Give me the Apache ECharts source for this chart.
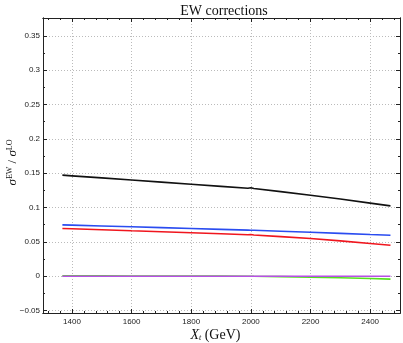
<!DOCTYPE html>
<html>
<head>
<meta charset="utf-8">
<script src="https://cdn.jsdelivr.net/npm/echarts@6/dist/echarts.min.js"></script>
<style>html,body{margin:0;padding:0;background:#fff}#c{width:403px;height:343px}</style>
</head>
<body>
<div id="c"></div>
<script>
// ---- data ----
const xTotal = [1368, 1400, 1500, 1600, 1700, 1800, 1900, 1990, 2000, 2010, 2100, 2200, 2300, 2400, 2468];
const blackVals = [0.1472, 0.1462, 0.1432, 0.1402, 0.1371, 0.1340, 0.1309, 0.1281, 0.1288, 0.1277, 0.1232, 0.1180, 0.1125, 0.1065, 0.1025];
const blueVals  = [0.0748, 0.0744, 0.0732, 0.0720, 0.0708, 0.0695, 0.0683, 0.0672, 0.0670, 0.0669, 0.0656, 0.0641, 0.0625, 0.0608, 0.0598];
const redVals   = [0.0695, 0.0691, 0.0677, 0.0662, 0.0648, 0.0633, 0.0618, 0.0605, 0.0607, 0.0601, 0.0577, 0.0550, 0.0515, 0.0477, 0.0452];
const greenVals = [0.0005, 0.0005, 0.0005, 0.0004, 0.0004, 0.0003, 0.0002, 0.0001, 0.0000, -0.0001, -0.0006, -0.0013, -0.0022, -0.0033, -0.0042];
const purpleVals= [0, 0, 0, 0, 0, 0, 0, 0, 0, 0, 0, 0, 0, 0, 0];
const xMajor = [1400, 1600, 1800, 2000, 2200, 2400];
const xMinor = [1320, 1360, 1440, 1480, 1520, 1560, 1640, 1680, 1720, 1760, 1840, 1880, 1920, 1960, 2040, 2080, 2120, 2160, 2240, 2280, 2320, 2360, 2440, 2480];
const yMajor = [-0.05, 0, 0.05, 0.1, 0.15, 0.2, 0.25, 0.3, 0.35];
const yMinor = [-0.025, 0.025, 0.075, 0.125, 0.175, 0.225, 0.275, 0.325, 0.375];
const xRange = [1303, 2500];
const yRange = [-0.0535, 0.376];
const titleText = 'EW corrections';

// ---- chart ----
const chart = echarts.init(document.getElementById('c'), null, {renderer: 'canvas'});
const lblStyle = {fontFamily: 'Liberation Sans, Arial, sans-serif', fontSize: 8, color: '#222'};
function fmtY(v) {
  let s = String(Math.round(v * 1000) / 1000);
  return s.replace('-', '\u2212');
}
function fmtX(v) { return String(Math.round(v)); }
function xAx(pos, ticks, len, opts) {
  return Object.assign({
    type: 'value', position: pos, min: xRange[0], max: xRange[1],
    axisLine: {show: true, onZero: false, lineStyle: {color: '#222', width: 1}},
    axisTick: {show: true, inside: true, length: len, customValues: ticks, lineStyle: {color: '#222', width: 1}},
    axisLabel: {show: false},
    splitLine: {show: false}
  }, opts || {});
}
function yAx(pos, ticks, len, opts) {
  return Object.assign({
    type: 'value', position: pos, min: yRange[0], max: yRange[1],
    axisLine: {show: true, onZero: false, lineStyle: {color: '#222', width: 1}},
    axisTick: {show: true, inside: true, length: len, customValues: ticks, lineStyle: {color: '#222', width: 1}},
    axisLabel: {show: false},
    splitLine: {show: false}
  }, opts || {});
}
const gridLine = {show: true, lineStyle: {color: '#bbb', type: [1, 2], width: 1}};
const option = {
  animation: false,
  backgroundColor: '#fff',
  title: {
    text: titleText, left: 219, top: -1, textAlign: 'center',
    textStyle: {fontFamily: 'Liberation Serif, DejaVu Serif, serif', fontSize: 14, fontWeight: 'normal', color: '#111'}
  },
  grid: {left: 43, right: 3, top: 18, bottom: 30, containLabel: false, outerBoundsMode: 'none'},
  xAxis: [
    xAx('bottom', xMajor, 4, {
      axisLabel: Object.assign({show: true, customValues: xMajor, margin: 5, formatter: fmtX}, lblStyle),
      splitLine: gridLine,
      name: '{x|X}{t|t} {g|(GeV)}', nameLocation: 'middle', nameGap: 15, nameMoveOverlap: false,
      nameTextStyle: {
        padding: [0, 12, 0, 0],
        rich: {
          x: {fontFamily: 'Liberation Serif, serif', fontStyle: 'italic', fontSize: 14, color: '#111'},
          t: {fontFamily: 'Liberation Serif, serif', fontStyle: 'italic', fontSize: 8, color: '#111', padding: [6, 0, 0, 0]},
          g: {fontFamily: 'Liberation Serif, serif', fontSize: 14, color: '#111'}
        }
      }
    }),
    xAx('bottom', xMinor, 2),
    xAx('top', xMajor, 4),
    xAx('top', xMinor, 2)
  ],
  yAxis: [
    yAx('left', yMajor, 4, {
      axisLabel: Object.assign({show: true, customValues: yMajor, margin: 3, formatter: fmtY}, lblStyle),
      splitLine: gridLine,
      name: '{s|\u03c3}{p|EW}{m| / }{s|\u03c3}{p|LO}', nameLocation: 'middle', nameGap: 23, nameRotate: 90, nameMoveOverlap: false,
      nameTextStyle: {
        padding: [0, 0, 0, 6],
        rich: {
          s: {fontFamily: 'Liberation Serif, serif', fontStyle: 'italic', fontSize: 13, color: '#111'},
          p: {fontFamily: 'Liberation Serif, serif', fontSize: 8, color: '#111', padding: [0, 0, 6, 0]},
          m: {fontFamily: 'Liberation Serif, serif', fontSize: 13, color: '#111'}
        }
      }
    }),
    yAx('left', yMinor, 2),
    yAx('right', yMajor, 4),
    yAx('right', yMinor, 2)
  ],
  series: [
    {name: 'black', data: xTotal.map((x, i) => [x, blackVals[i]])},
    {name: 'blue', data: xTotal.map((x, i) => [x, blueVals[i]])},
    {name: 'red', data: xTotal.map((x, i) => [x, redVals[i]])},
    {name: 'green', data: xTotal.map((x, i) => [x, greenVals[i]])},
    {name: 'purple', data: xTotal.map((x, i) => [x, purpleVals[i]])}
  ].map((s, i) => Object.assign(s, {
    type: 'line', xAxisIndex: 0, yAxisIndex: 0, showSymbol: false, symbol: 'none', smooth: false,
    lineStyle: {width: 1.6, color: ['#111111', '#2a4cf0', '#f0161e', '#55e020', '#b84fe6'][i]},
    itemStyle: {color: ['#111111', '#2a4cf0', '#f0161e', '#55e020', '#b84fe6'][i]},
    z: 2 + i
  }))
};
chart.setOption(option);
</script>
</body>
</html>
